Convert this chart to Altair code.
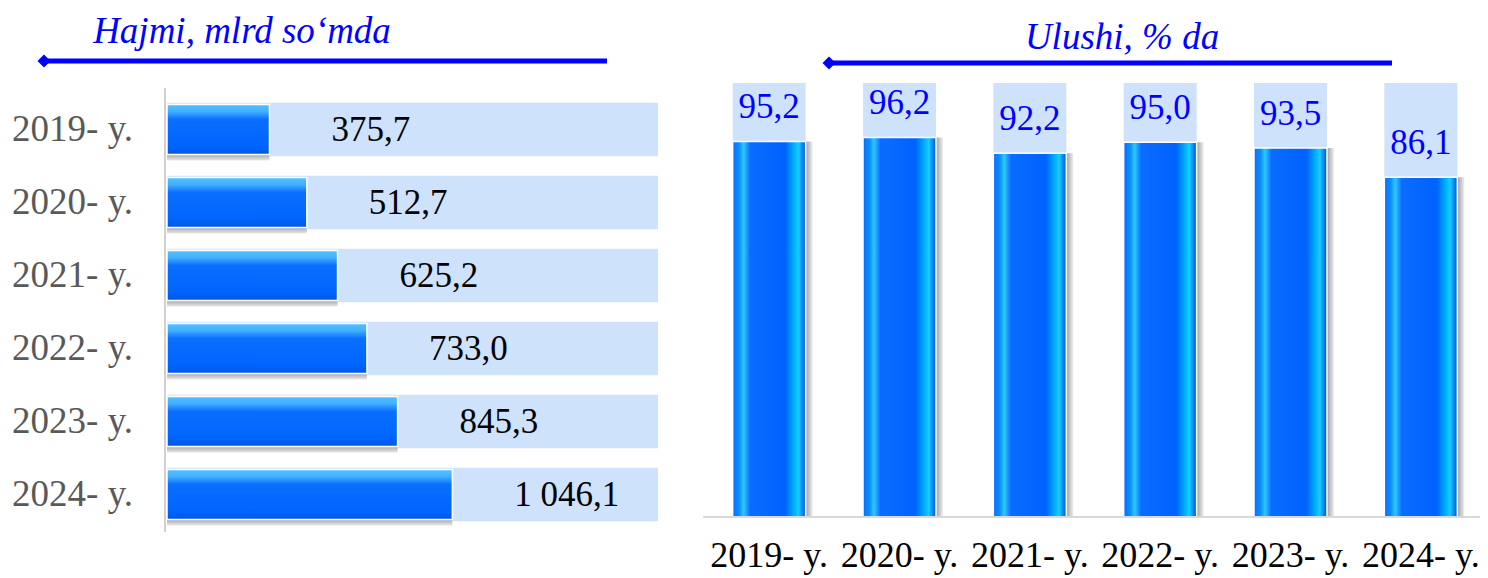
import altair as alt
import pandas as pd

# ---- data ----
years = ["2019- y.", "2020- y.", "2021- y.", "2022- y.", "2023- y.", "2024- y."]
volume = [375.7, 512.7, 625.2, 733.0, 845.3, 1046.1]
volume_labels = ["375,7", "512,7", "625,2", "733,0", "845,3", "1 046,1"]
volume_full = 1800
share = [95.2, 96.2, 92.2, 95.0, 93.5, 86.1]
share_labels = ["95,2", "96,2", "92,2", "95,0", "93,5", "86,1"]
share_full = 110
left_title = "Hajmi, mlrd so‘mda"
right_title = "Ulushi, % da"

FONT = "Liberation Serif"
BLUE = "#0000FF"
LIGHT = "#CFE2FC"

left_df = pd.DataFrame({"year": years, "value": volume, "label": volume_labels,
                        "full": [volume_full] * len(years)})
right_df = pd.DataFrame({"year": years, "value": share, "label": share_labels,
                         "full": [share_full] * len(years)})
one = pd.DataFrame({"k": [0]})

# ---- gradients ----
left_grad = alt.LinearGradient(
    gradient="linear", x1=0, y1=0, x2=0, y2=1,
    stops=[alt.GradientStop(color="#52C2FF", offset=0),
           alt.GradientStop(color="#44B0FF", offset=0.14),
           alt.GradientStop(color="#0A6EFF", offset=0.3),
           alt.GradientStop(color="#0066FF", offset=0.8),
           alt.GradientStop(color="#0058E6", offset=1)])
left_shadow = alt.LinearGradient(
    gradient="linear", x1=0, y1=0, x2=0, y2=1,
    stops=[alt.GradientStop(color="#808080", offset=0.8),
           alt.GradientStop(color="#E8E8E8", offset=1)])
right_grad = alt.LinearGradient(
    gradient="linear", x1=0, y1=0, x2=1, y2=0,
    stops=[alt.GradientStop(color="#0A6CFF", offset=0),
           alt.GradientStop(color="#0A90FF", offset=0.09),
           alt.GradientStop(color="#30C8FF", offset=0.15),
           alt.GradientStop(color="#0A6CFF", offset=0.24),
           alt.GradientStop(color="#0062FF", offset=0.72),
           alt.GradientStop(color="#00B0FF", offset=0.84),
           alt.GradientStop(color="#18CCFF", offset=0.9),
           alt.GradientStop(color="#0050E0", offset=1)])
right_shadow = alt.LinearGradient(
    gradient="linear", x1=0, y1=0, x2=1, y2=0,
    stops=[alt.GradientStop(color="#707070", offset=0.85),
           alt.GradientStop(color="#F0F0F0", offset=1)])

# ---- left panel ----
ly = alt.Y("year:N", sort=years, axis=None,
           scale=alt.Scale(range=[85, 523], paddingInner=0.27, paddingOuter=0.135))
lx_scale = alt.Scale(domain=[0, volume_full], range=[159, 650], nice=False)

lbg = alt.Chart(left_df).mark_bar(color=LIGHT).encode(
    x=alt.X("full:Q", scale=lx_scale, axis=None), y=ly)
lsh = alt.Chart(left_df).mark_bar(size=48, yOffset=7, color=left_shadow).encode(
    x=alt.X("value:Q", scale=lx_scale, axis=None), y=ly)
lbar = alt.Chart(left_df).mark_bar(size=50, color=left_grad, stroke="white",
                                   strokeWidth=1.5).encode(
    x=alt.X("value:Q", scale=lx_scale, axis=None), y=ly)
lval = alt.Chart(left_df).mark_text(align="left", baseline="middle", dx=62, font=FONT,
                                    fontSize=35, color="black").encode(
    x=alt.X("value:Q", scale=lx_scale, axis=None), y=ly, text="label:N")
lyear = alt.Chart(left_df).mark_text(align="right", baseline="middle", font=FONT,
                                     fontSize=37, color="#595959").encode(
    x=alt.value(125), y=ly, text="year:N")
laxis = alt.Chart(one).mark_rule(color="#D0D0D0", strokeWidth=2).encode(
    x=alt.value(157), y=alt.value(80), y2=alt.value(524))
ltitle = alt.Chart(one).mark_text(font=FONT, fontSize=37, fontStyle="italic",
                                  color=BLUE, baseline="middle").encode(
    x=alt.value(234), y=alt.value(24), text=alt.value(left_title))
lline = alt.Chart(one).mark_rule(color=BLUE, strokeWidth=5).encode(
    x=alt.value(36), x2=alt.value(599), y=alt.value(53))
ldia = alt.Chart(one).mark_point(shape="diamond", filled=True, size=170,
                                 color=BLUE, opacity=1).encode(
    x=alt.value(36), y=alt.value(53))

left = alt.layer(lbg, lsh, lbar, lval, lyear, laxis, ltitle, lline, ldia)

# ---- right panel ----
rx = alt.X("year:N", sort=years, axis=None,
           scale=alt.Scale(range=[696, 1478], paddingInner=0.44, paddingOuter=0.22))
ry_scale = alt.Scale(domain=[0, share_full], range=[509, 75], nice=False)

rbg = alt.Chart(right_df).mark_bar(color=LIGHT).encode(
    x=rx, y=alt.Y("full:Q", scale=ry_scale, axis=None))
rsh = alt.Chart(right_df).mark_bar(xOffset=7, color=right_shadow).encode(
    x=rx, y=alt.Y("value:Q", scale=ry_scale, axis=None))
rbar = alt.Chart(right_df).mark_bar(color=right_grad, stroke="white",
                                    strokeWidth=1.5).encode(
    x=rx, y=alt.Y("value:Q", scale=ry_scale, axis=None))
rval = alt.Chart(right_df).mark_text(baseline="middle", dy=-34, font=FONT,
                                     fontSize=35, color=BLUE).encode(
    x=rx, y=alt.Y("value:Q", scale=ry_scale, axis=None), text="label:N")
rxlab = alt.Chart(right_df).mark_text(baseline="middle", font=FONT, fontSize=36,
                                      color="black").encode(
    x=rx, y=alt.value(548), text="year:N")
raxis = alt.Chart(one).mark_rule(color="#D9D9D9", strokeWidth=2).encode(
    x=alt.value(695), x2=alt.value(1480), y=alt.value(509))
rtitle = alt.Chart(one).mark_text(font=FONT, fontSize=37, fontStyle="italic",
                                  color=BLUE, baseline="middle").encode(
    x=alt.value(1114), y=alt.value(30), text=alt.value(right_title))
rline = alt.Chart(one).mark_rule(color=BLUE, strokeWidth=5).encode(
    x=alt.value(821), x2=alt.value(1384), y=alt.value(55))
rdia = alt.Chart(one).mark_point(shape="diamond", filled=True, size=170,
                                 color=BLUE, opacity=1).encode(
    x=alt.value(821), y=alt.value(55))

right = alt.layer(rbg, rsh, rbar, rval, rxlab, raxis, rtitle, rline, rdia)

chart = alt.layer(left, right).resolve_scale(
    x="independent", y="independent"
).properties(
    width=1472, height=570, padding=0,
    autosize=alt.AutoSizeParams(type="none")
).configure_view(strokeWidth=0)

chart.save("out.html", embed_options={"renderer": "svg", "actions": False})
